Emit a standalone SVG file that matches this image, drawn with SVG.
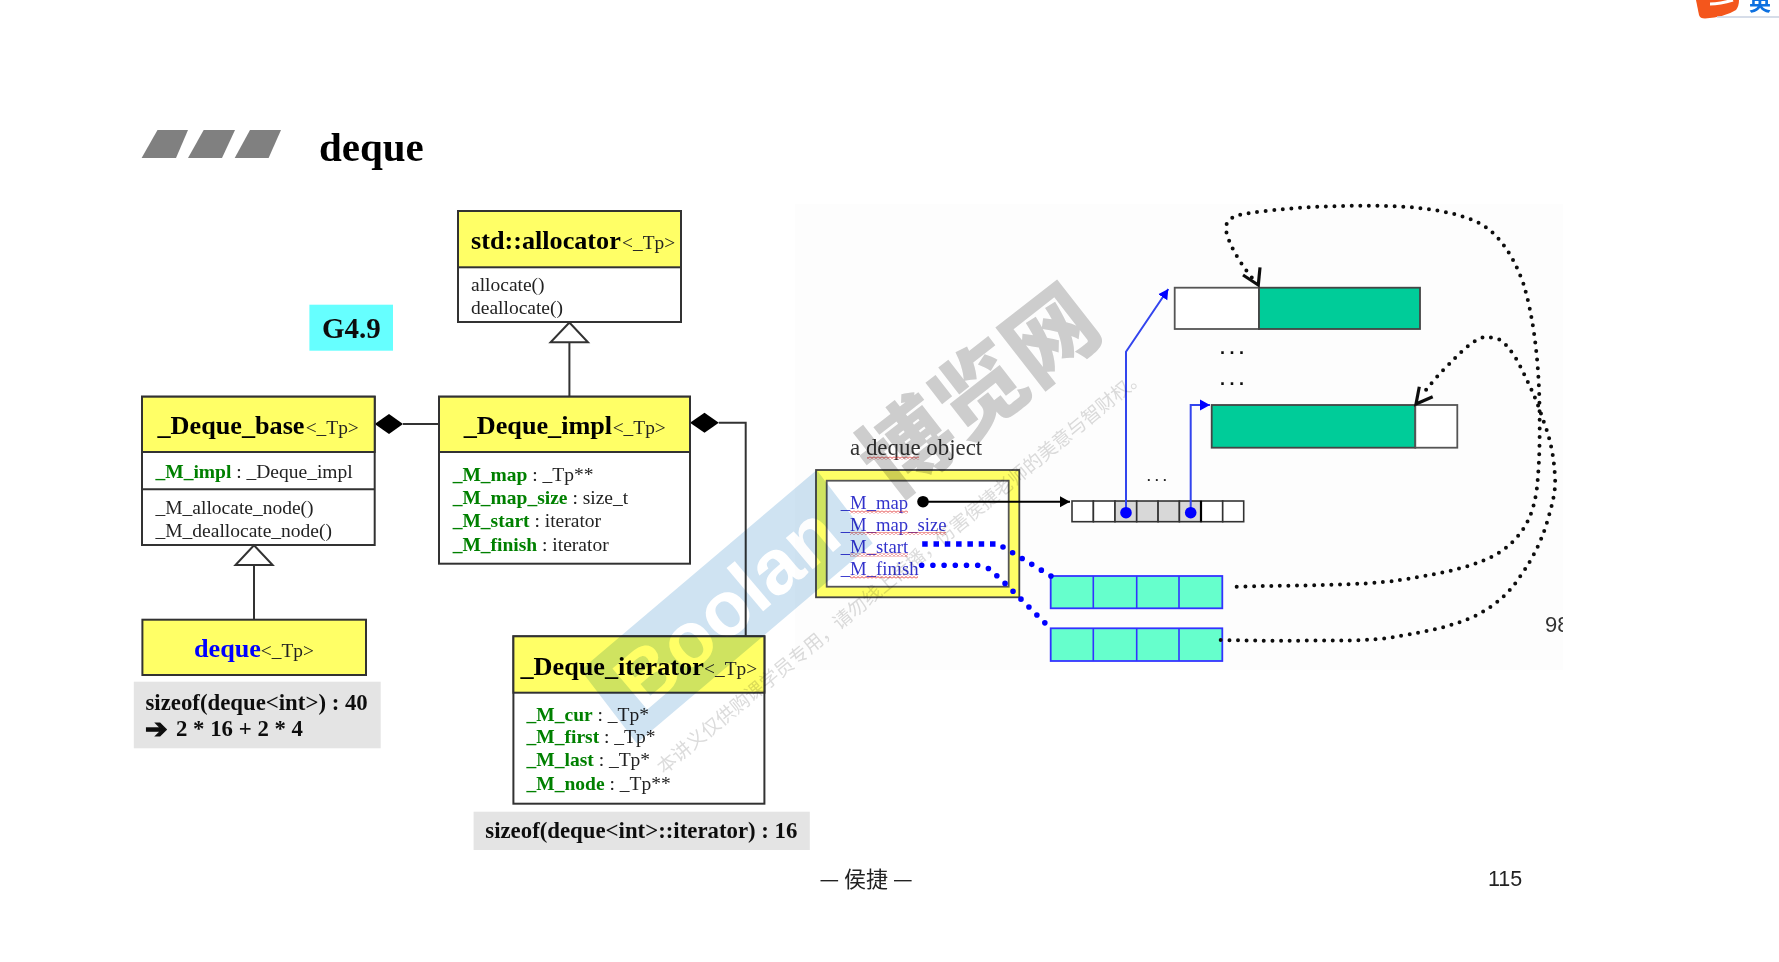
<svg xmlns="http://www.w3.org/2000/svg" width="1779" height="962" viewBox="0 0 1779 962">
<style>
text{font-family:"Liberation Serif","Noto Sans CJK SC",serif;fill:#222}
.box{fill:#fff;stroke:#333;stroke-width:2}
.hd{fill:#ffff66;stroke:#333;stroke-width:2}
.ln{fill:none;stroke:#333;stroke-width:2}
.tri{fill:#fff;stroke:#333;stroke-width:2}
.t{font-size:26.2px;font-weight:bold;fill:#000}
.tp{font-size:19.4px;fill:#222}
.m{font-size:19.5px}
.g{font-weight:bold;fill:#008000}
.s{font-size:22.8px;font-weight:bold;fill:#111}
.gray{fill:#e4e4e4}
.blu{font-size:18.7px;fill:#3333cc}
.teal{fill:#66ffcc;stroke:#3333ff;stroke-width:1.8}
.tdiv{fill:none;stroke:#3333ff;stroke-width:1.6}
.grn{fill:#00cc99;stroke:#444;stroke-width:1.8}
.wh{fill:#fff;stroke:#555;stroke-width:1.8}
.cell{fill:#fff;stroke:#333;stroke-width:1.6}
.gc{fill:#d8d8d8;stroke:#333;stroke-width:1.6}
.bl{fill:none;stroke:#3344ee;stroke-width:2}
.bdot{fill:none;stroke:#0000ff;stroke-width:5.6;stroke-linecap:round;stroke-dasharray:0 11.2}
.kdot{fill:none;stroke:#111;stroke-width:4;stroke-linecap:round;stroke-dasharray:0 8.6}
.open{fill:none;stroke:#111;stroke-width:3.2}
.dots{font-family:"Liberation Sans",sans-serif;font-size:18px;font-weight:bold;letter-spacing:4.5px;fill:#111}
.wm{mix-blend-mode:multiply}
</style>
<defs>
<pattern id="wave" width="4" height="3" patternUnits="userSpaceOnUse"><path d="M0 2.4L2 .6L4 2.4" fill="none" stroke="#e03030" stroke-width=".9"/></pattern>
<marker id="ah" markerUnits="userSpaceOnUse" markerWidth="12" markerHeight="12" refX="10" refY="6" orient="auto"><path d="M0 .5L10 6L0 11.5Z" fill="#000"/></marker>
<marker id="ab" markerUnits="userSpaceOnUse" markerWidth="12" markerHeight="12" refX="10" refY="6" orient="auto"><path d="M0 .5L10 6L0 11.5Z" fill="#0000ff"/></marker>
<clipPath id="pg"><rect x="1500" y="600" width="63" height="50"/></clipPath>
<filter id="soft" filterUnits="userSpaceOnUse" x="0" y="0" width="1779" height="962"><feGaussianBlur stdDeviation="0.45"/></filter>
</defs>
<g filter="url(#soft)">
<rect width="1779" height="962" fill="#fff"/>
<rect x="795" y="204" width="768" height="466" fill="#fdfdfd"/>

<g id="logo">
<path d="M1696 0L1699 15Q1700 18.5 1705 18.5Q1725 17 1736 10Q1739 6 1739 0Z" fill="#f4561a"/>
<path d="M1710 4Q1720 4 1733 0" fill="none" stroke="#fff" stroke-width="3"/>
<path d="M1717 17H1779" stroke="#c8d2e2" stroke-width="1.5"/>
<text x="1749" y="10" style="font-family:'Noto Sans CJK SC',sans-serif;font-size:22px;font-weight:bold;fill:#0a6fe0">英</text>
</g>

<g id="title">
<polygon points="141.6,158 157.5,130 188,130 176,158" fill="#808080"/>
<polygon points="188,158 203.7,130 235,130 222,158" fill="#808080"/>
<polygon points="234.7,158 250,130 281,130 268.6,158" fill="#808080"/>
<text x="319" y="161" style="font-size:41px;font-weight:bold;fill:#000">deque</text>
</g>

<g id="connectors">
<path class="ln" d="M569.4 342V396.7"/>
<path class="ln" d="M254 565V619.7"/>
<path class="ln" d="M403 424H439"/>
<path class="ln" d="M718.8 422.7H745.7V636.3"/>
<polygon points="374.7,424 389,414 403,424 389,434" fill="#000"/>
<polygon points="690,422.7 704.5,412.7 718.8,422.7 704.5,432.7" fill="#000"/>
</g>

<g id="g49">
<rect x="309.4" y="304.7" width="83.6" height="46" fill="#66ffff"/>
<text x="322" y="338" style="font-size:29px;font-weight:bold;fill:#111">G4.9</text>
</g>

<g id="allocator">
<rect class="box" x="458" y="211" width="223" height="111"/>
<rect class="hd" x="458" y="211" width="223" height="56.3"/>
<text class="t" x="471" y="249">std::allocator</text>
<text class="tp" x="622" y="249">&lt;_Tp&gt;</text>
<text class="m" x="471" y="290.7">allocate()</text>
<text class="m" x="471" y="314">deallocate()</text>
<polygon class="tri" points="569.4,322.5 588,342.3 550.6,342.3"/>
</g>

<g id="deque_base">
<rect class="box" x="142" y="396.7" width="232.7" height="148.3"/>
<rect class="hd" x="142" y="396.7" width="232.7" height="55.3"/>
<path class="ln" d="M142 489.3H374.7"/>
<text class="t" x="157.5" y="434">_Deque_base</text>
<text class="tp" x="305.7" y="434">&lt;_Tp&gt;</text>
<text class="m" x="155.5" y="478.3"><tspan class="g">_M_impl</tspan> : _Deque_impl</text>
<text class="m" x="155.5" y="514">_M_allocate_node()</text>
<text class="m" x="155.5" y="536.7">_M_deallocate_node()</text>
<polygon class="tri" points="254,545.3 272.6,565 235.5,565"/>
</g>

<g id="deque_impl">
<rect class="box" x="439" y="396.7" width="251" height="167"/>
<rect class="hd" x="439" y="396.7" width="251" height="55.3"/>
<text class="t" x="463.7" y="434">_Deque_impl</text>
<text class="tp" x="612.7" y="434">&lt;_Tp&gt;</text>
<text class="m" x="452.7" y="480.5"><tspan class="g">_M_map</tspan> : _Tp**</text>
<text class="m" x="452.7" y="504"><tspan class="g">_M_map_size</tspan> : size_t</text>
<text class="m" x="452.7" y="527.3"><tspan class="g">_M_start</tspan> : iterator</text>
<text class="m" x="452.7" y="550.7"><tspan class="g">_M_finish</tspan> : iterator</text>
</g>

<g id="deque">
<rect class="hd" x="142.4" y="619.7" width="223.6" height="55.3"/>
<text class="t" x="194" y="656.5" style="fill:#0000ff">deque</text>
<text class="tp" x="260.8" y="656.5">&lt;_Tp&gt;</text>
</g>

<g id="sizeof_deque">
<rect class="gray" x="133.8" y="681.7" width="246.9" height="66.6"/>
<text class="s" x="145.5" y="710">sizeof(deque&lt;int&gt;) : 40</text>
<text x="145" y="738" style="font-family:'DejaVu Sans',sans-serif;font-size:27px;fill:#111;stroke:#111;stroke-width:1.2">➔</text>
<text class="s" x="176" y="736">2 * 16 + 2 * 4</text>
</g>

<g id="deque_iterator">
<rect class="box" x="513.4" y="636.3" width="251" height="167.4"/>
<rect class="hd" x="513.4" y="636.3" width="251" height="56.4"/>
<text class="t" x="520.5" y="675">_Deque_iterator</text>
<text class="tp" x="704" y="675">&lt;_Tp&gt;</text>
<text class="m" x="526.6" y="720.5"><tspan class="g">_M_cur</tspan> : _Tp*</text>
<text class="m" x="526.6" y="743.3"><tspan class="g">_M_first</tspan> : _Tp*</text>
<text class="m" x="526.6" y="766.2"><tspan class="g">_M_last</tspan> : _Tp*</text>
<text class="m" x="526.6" y="790"><tspan class="g">_M_node</tspan> : _Tp**</text>
</g>

<g id="sizeof_iterator">
<rect class="gray" x="473.6" y="811.7" width="336.2" height="38.3"/>
<text class="s" x="485.3" y="838.3">sizeof(deque&lt;int&gt;::iterator) : 16</text>
</g>

<g id="deque_object">
<text x="850" y="455" style="font-size:22.9px;fill:#333">a deque object</text>
<rect x="867" y="456.5" width="52" height="3" fill="url(#wave)"/>
<rect x="816" y="470" width="203.3" height="127.3" fill="#ffff66" stroke="#444" stroke-width="1.8"/>
<rect x="826.7" y="480.7" width="182" height="106" fill="#fff" stroke="#555" stroke-width="1.8"/>
<text class="blu" x="840.7" y="509">_M_map</text>
<text class="blu" x="840.7" y="531">_M_map_size</text>
<text class="blu" x="840.7" y="552.5">_M_start</text>
<text class="blu" x="840.7" y="574.5">_M_finish</text>
<rect x="850" y="510.5" width="58" height="3" fill="url(#wave)"/>
<rect x="850" y="532" width="96" height="3" fill="url(#wave)"/>
<rect x="850" y="553.5" width="58" height="3" fill="url(#wave)"/>
<rect x="850" y="575.5" width="68" height="3" fill="url(#wave)"/>
</g>

<g id="map_array">
<rect class="cell" x="1072" y="501" width="21.4" height="20.7"/>
<rect class="cell" x="1093.4" y="501" width="21.6" height="20.7"/>
<rect class="gc" x="1115" y="501" width="21.7" height="20.7"/>
<rect class="gc" x="1136.7" y="501" width="21.4" height="20.7"/>
<rect class="gc" x="1158.1" y="501" width="21.3" height="20.7"/>
<rect class="gc" x="1179.4" y="501" width="21.6" height="20.7"/>
<rect class="cell" x="1201" y="501" width="21.7" height="20.7"/>
<rect class="cell" x="1222.7" y="501" width="21" height="20.7"/>
<path d="M1201 501V521.7" stroke="#000" stroke-width="2.2"/>
</g>

<g id="buffer_a">
<rect class="wh" x="1174.7" y="287.7" width="84.3" height="41.3"/>
<rect class="grn" x="1259" y="287.7" width="161" height="41.3"/>
</g>
<g id="buffer_b">
<rect class="grn" x="1211.7" y="405" width="203.6" height="42.7"/>
<rect class="wh" x="1415.3" y="405" width="42" height="42.7"/>
</g>
<g id="iter_start">
<rect class="teal" x="1050.7" y="576" width="171.6" height="32.3"/>
<path class="tdiv" d="M1093.3 576V608.3M1136.7 576V608.3M1179 576V608.3"/>
</g>
<g id="iter_finish">
<rect class="teal" x="1050.7" y="628.3" width="171.6" height="32.7"/>
<path class="tdiv" d="M1093.3 628.3V661M1136.7 628.3V661M1179 628.3V661"/>
</g>

<g id="labels">
<text class="dots" x="1220" y="353.5">...</text>
<text class="dots" x="1220" y="385">...</text>
<text class="dots" x="1147" y="480.5" style="font-size:13px;letter-spacing:4.4px;fill:#222">...</text>
<text x="1545" y="631.7" clip-path="url(#pg)" style="font-family:'Liberation Sans',sans-serif;font-size:22px;fill:#333">98</text>
</g>

<g id="pointers">
<circle cx="923" cy="501.7" r="5.8" fill="#000"/>
<path d="M923 501.7H1070" fill="none" stroke="#000" stroke-width="2" marker-end="url(#ah)"/>
<path class="bl" d="M1126 512.7V351.7L1168.3 289" marker-end="url(#ab)"/>
<path class="bl" d="M1190.7 512.7V405H1210" marker-end="url(#ab)"/>
<circle cx="1126" cy="512.7" r="5.8" fill="#0000ff"/>
<circle cx="1190.7" cy="512.7" r="5.8" fill="#0000ff"/>
<path d="M922.2 544H996" fill="none" stroke="#0000ff" stroke-width="5.6" stroke-dasharray="5.5 5.8"/>
<path class="bdot" d="M1003 547L1013 553L1051 576"/>
<path class="bdot" d="M921.7 565.3H979Q990 567 997 576L1005.7 584L1046 624"/>
<path class="kdot" d="M1236.7 586.7C1300 585 1360 586 1400 580C1445 573 1480 566 1503.3 550C1525 533 1533 515 1536.7 490C1540 460 1540 430 1539.3 396.7C1538 355 1533 315 1523.3 283.3C1513 255 1498 232 1476.7 221.7C1445 208 1405 205.7 1366.7 205.7C1325 205.7 1280 208 1243.3 214C1228 217 1224 224 1226.7 233.3C1231 250 1245 270 1256.7 283.3"/>
<path class="kdot" d="M1220.7 640C1250 640.5 1275 641 1300 640.7C1335 640 1370 642 1400 636C1428 631 1450 627 1473.3 616.7C1492 608 1508 595 1520 576.7C1533 558 1541 542 1546.7 523.3C1552 505 1556 492 1555 476.7C1554 460 1552 447 1546.7 430C1541 414 1537 401 1530 386.7C1524 374 1517 358 1510 350C1505 343 1499 338 1493.3 337.7C1487 337 1482 336.5 1476.7 340C1465 347 1456 357 1446.7 366.7C1437 376 1430 385 1423.3 393.3"/>
<path class="open" d="M1243 275L1258.3 285L1260 267.3"/>
<path class="open" d="M1419.3 386.7L1416 404L1432.7 396.7"/>
</g>

<g id="footer">
<text x="866" y="886.7" text-anchor="middle" style="font-family:'Noto Sans CJK SC',sans-serif;font-size:22px;fill:#222">— 侯捷 —</text>
<text x="1488" y="886" style="font-family:'Liberation Sans',sans-serif;font-size:21.5px;fill:#222">115</text>
</g>

<g id="watermark">
<g class="wm">
<polygon points="580.7,670 636.7,743.3 872.7,543.3 816.7,470" fill="#cfe3f2"/>
<text transform="translate(726.7 606.7) rotate(-40.3)" x="0" y="27" text-anchor="middle" style="font-family:'Liberation Sans',sans-serif;font-size:78px;font-weight:bold;fill:#fff">Boolan</text>
</g>
<text class="wm" transform="translate(979 391) rotate(-38)" x="0" y="33" text-anchor="middle" style="font-family:'Noto Sans CJK SC',sans-serif;font-size:91px;font-weight:900;fill:#cfcfcf">博览网</text>
<text class="wm" transform="translate(660 770) rotate(-39.4)" x="0" y="6" textLength="625" style="font-family:'Noto Sans CJK SC',sans-serif;font-size:19px;fill:#dcdcdc">本讲义仅供购课学员专用，请勿线上传播，伤害侯捷老师的美意与智财权。</text>
</g>
</g>
</svg>
